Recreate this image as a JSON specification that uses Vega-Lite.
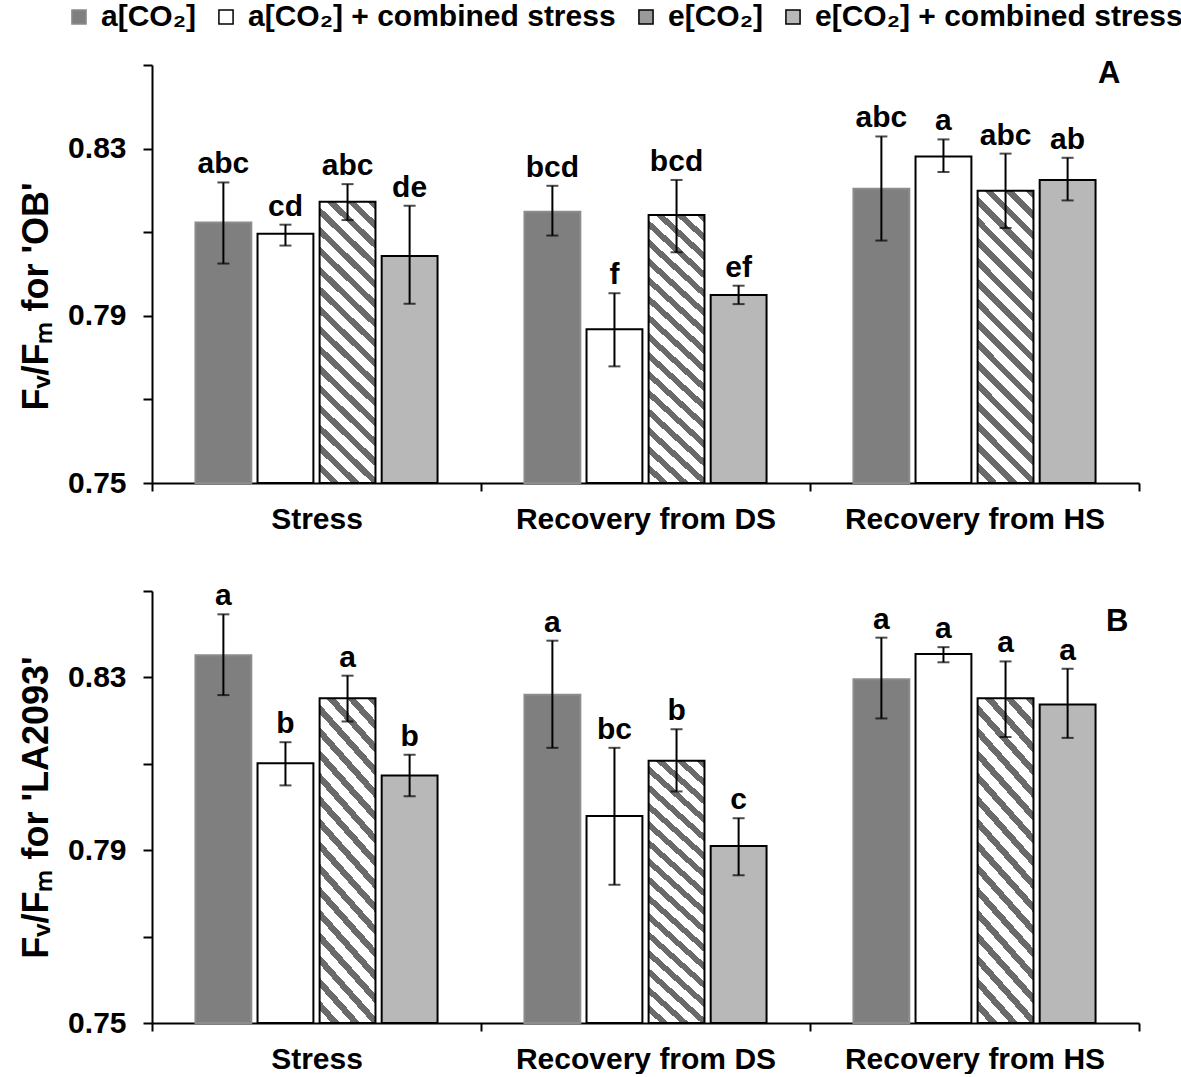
{
  "$schema": "https://vega.github.io/schema/vega-lite/v6.json",
  "padding": {"left": 18, "top": 2, "right": 0, "bottom": 0},
  "background": "white",
  "datasets": {
    "A": [
      {"phase": "Stress", "treat": "a[CO₂]", "mean": 0.8123, "lo": 0.8025, "hi": 0.8219, "letter": "abc"},
      {"phase": "Stress", "treat": "a[CO₂] + combined stress", "mean": 0.8096, "lo": 0.8068, "hi": 0.8118, "letter": "cd"},
      {"phase": "Stress", "treat": "e[CO₂]", "mean": 0.8173, "lo": 0.8129, "hi": 0.8215, "letter": "abc"},
      {"phase": "Stress", "treat": "e[CO₂] + combined stress", "mean": 0.8043, "lo": 0.7929, "hi": 0.8163, "letter": "de"},
      {"phase": "Recovery from DS", "treat": "a[CO₂]", "mean": 0.8149, "lo": 0.8092, "hi": 0.8211, "letter": "bcd"},
      {"phase": "Recovery from DS", "treat": "a[CO₂] + combined stress", "mean": 0.7868, "lo": 0.7779, "hi": 0.7954, "letter": "f"},
      {"phase": "Recovery from DS", "treat": "e[CO₂]", "mean": 0.8141, "lo": 0.8052, "hi": 0.8225, "letter": "bcd"},
      {"phase": "Recovery from DS", "treat": "e[CO₂] + combined stress", "mean": 0.7950, "lo": 0.7928, "hi": 0.7972, "letter": "ef"},
      {"phase": "Recovery from HS", "treat": "a[CO₂]", "mean": 0.8204, "lo": 0.8080, "hi": 0.8329, "letter": "abc"},
      {"phase": "Recovery from HS", "treat": "a[CO₂] + combined stress", "mean": 0.8281, "lo": 0.8244, "hi": 0.8322, "letter": "a"},
      {"phase": "Recovery from HS", "treat": "e[CO₂]", "mean": 0.8199, "lo": 0.8110, "hi": 0.8288, "letter": "abc"},
      {"phase": "Recovery from HS", "treat": "e[CO₂] + combined stress", "mean": 0.8225, "lo": 0.8176, "hi": 0.8278, "letter": "ab"}
    ],
    "B": [
      {"phase": "Stress", "treat": "a[CO₂]", "mean": 0.8351, "lo": 0.8259, "hi": 0.8446, "letter": "a"},
      {"phase": "Stress", "treat": "a[CO₂] + combined stress", "mean": 0.8101, "lo": 0.8050, "hi": 0.8150, "letter": "b"},
      {"phase": "Stress", "treat": "e[CO₂]", "mean": 0.8252, "lo": 0.8198, "hi": 0.8304, "letter": "a"},
      {"phase": "Stress", "treat": "e[CO₂] + combined stress", "mean": 0.8073, "lo": 0.8025, "hi": 0.8121, "letter": "b"},
      {"phase": "Recovery from DS", "treat": "a[CO₂]", "mean": 0.8260, "lo": 0.8137, "hi": 0.8385, "letter": "a"},
      {"phase": "Recovery from DS", "treat": "a[CO₂] + combined stress", "mean": 0.7979, "lo": 0.7820, "hi": 0.8137, "letter": "bc"},
      {"phase": "Recovery from DS", "treat": "e[CO₂]", "mean": 0.8107, "lo": 0.8036, "hi": 0.8180, "letter": "b"},
      {"phase": "Recovery from DS", "treat": "e[CO₂] + combined stress", "mean": 0.7910, "lo": 0.7842, "hi": 0.7974, "letter": "c"},
      {"phase": "Recovery from HS", "treat": "a[CO₂]", "mean": 0.8296, "lo": 0.8205, "hi": 0.8392, "letter": "a"},
      {"phase": "Recovery from HS", "treat": "a[CO₂] + combined stress", "mean": 0.8354, "lo": 0.8335, "hi": 0.8370, "letter": "a"},
      {"phase": "Recovery from HS", "treat": "e[CO₂]", "mean": 0.8252, "lo": 0.8162, "hi": 0.8337, "letter": "a"},
      {"phase": "Recovery from HS", "treat": "e[CO₂] + combined stress", "mean": 0.8237, "lo": 0.8160, "hi": 0.8320, "letter": "a"}
    ],
    "labA": [{"lab": "A"}],
    "labB": [{"lab": "B"}]
  },
  "spacing": 47,
  "resolve": {"scale": {"fill": "shared", "stroke": "shared"}},
  "vconcat": [
    {
      "width": 987,
      "height": 418,
      "layer": [
        {
          "data": {"name": "A"},
          "mark": {"type": "bar", "strokeWidth": 2},
          "encoding": {
            "x": {"field": "phase", "type": "nominal", "sort": ["Stress", "Recovery from DS", "Recovery from HS"], "scale": {"paddingInner": 0, "paddingOuter": 0}, "axis": {"title": null, "labelAngle": 0, "tickBand": "extent", "tickSize": 8, "labelPadding": 13, "labelLimit": 0}},
            "xOffset": {"field": "treat", "type": "nominal", "scale": {"domain": ["a[CO₂]", "a[CO₂] + combined stress", "e[CO₂]", "e[CO₂] + combined stress"], "paddingInner": 0.1, "paddingOuter": 0.7}},
            "y": {"field": "mean", "type": "quantitative", "scale": {"domain": [0.75, 0.85], "nice": false, "zero": false}, "axis": {"title": "Fᵥ/Fₘ for 'OB'", "values": [0.75, 0.77, 0.79, 0.81, 0.83, 0.85], "labelExpr": "indexof(['0.75','0.79','0.83'], format(datum.value, '.2f')) >= 0 ? format(datum.value, '.2f') : ''", "tickSize": 9, "labelPadding": 17, "titlePadding": 12, "titleY": 231}},
            "y2": {"datum": 0.75},
            "fill": {"condition": {"test": "datum.treat === 'e[CO₂]'", "value": {"gradient": "linear", "x1": 0, "y1": 1, "x2": 0.221, "y2": -0.15, "stops": [
              {"offset": 0, "color": "#ffffff"}, {"offset": 0.0341, "color": "#ffffff"}, {"offset": 0.0341, "color": "#6a6a6a"}, {"offset": 0.0588, "color": "#6a6a6a"},
              {"offset": 0.0588, "color": "#ffffff"}, {"offset": 0.0929, "color": "#ffffff"}, {"offset": 0.0929, "color": "#6a6a6a"}, {"offset": 0.1176, "color": "#6a6a6a"},
              {"offset": 0.1176, "color": "#ffffff"}, {"offset": 0.1518, "color": "#ffffff"}, {"offset": 0.1518, "color": "#6a6a6a"}, {"offset": 0.1765, "color": "#6a6a6a"},
              {"offset": 0.1765, "color": "#ffffff"}, {"offset": 0.2106, "color": "#ffffff"}, {"offset": 0.2106, "color": "#6a6a6a"}, {"offset": 0.2353, "color": "#6a6a6a"},
              {"offset": 0.2353, "color": "#ffffff"}, {"offset": 0.2694, "color": "#ffffff"}, {"offset": 0.2694, "color": "#6a6a6a"}, {"offset": 0.2941, "color": "#6a6a6a"},
              {"offset": 0.2941, "color": "#ffffff"}, {"offset": 0.3282, "color": "#ffffff"}, {"offset": 0.3282, "color": "#6a6a6a"}, {"offset": 0.3529, "color": "#6a6a6a"},
              {"offset": 0.3529, "color": "#ffffff"}, {"offset": 0.3871, "color": "#ffffff"}, {"offset": 0.3871, "color": "#6a6a6a"}, {"offset": 0.4118, "color": "#6a6a6a"},
              {"offset": 0.4118, "color": "#ffffff"}, {"offset": 0.4459, "color": "#ffffff"}, {"offset": 0.4459, "color": "#6a6a6a"}, {"offset": 0.4706, "color": "#6a6a6a"},
              {"offset": 0.4706, "color": "#ffffff"}, {"offset": 0.5047, "color": "#ffffff"}, {"offset": 0.5047, "color": "#6a6a6a"}, {"offset": 0.5294, "color": "#6a6a6a"},
              {"offset": 0.5294, "color": "#ffffff"}, {"offset": 0.5635, "color": "#ffffff"}, {"offset": 0.5635, "color": "#6a6a6a"}, {"offset": 0.5882, "color": "#6a6a6a"},
              {"offset": 0.5882, "color": "#ffffff"}, {"offset": 0.6224, "color": "#ffffff"}, {"offset": 0.6224, "color": "#6a6a6a"}, {"offset": 0.6471, "color": "#6a6a6a"},
              {"offset": 0.6471, "color": "#ffffff"}, {"offset": 0.6812, "color": "#ffffff"}, {"offset": 0.6812, "color": "#6a6a6a"}, {"offset": 0.7059, "color": "#6a6a6a"},
              {"offset": 0.7059, "color": "#ffffff"}, {"offset": 0.74, "color": "#ffffff"}, {"offset": 0.74, "color": "#6a6a6a"}, {"offset": 0.7647, "color": "#6a6a6a"},
              {"offset": 0.7647, "color": "#ffffff"}, {"offset": 0.7988, "color": "#ffffff"}, {"offset": 0.7988, "color": "#6a6a6a"}, {"offset": 0.8235, "color": "#6a6a6a"},
              {"offset": 0.8235, "color": "#ffffff"}, {"offset": 0.8576, "color": "#ffffff"}, {"offset": 0.8576, "color": "#6a6a6a"}, {"offset": 0.8824, "color": "#6a6a6a"},
              {"offset": 0.8824, "color": "#ffffff"}, {"offset": 0.9165, "color": "#ffffff"}, {"offset": 0.9165, "color": "#6a6a6a"}, {"offset": 0.9412, "color": "#6a6a6a"},
              {"offset": 0.9412, "color": "#ffffff"}, {"offset": 0.9753, "color": "#ffffff"}, {"offset": 0.9753, "color": "#6a6a6a"}, {"offset": 1, "color": "#6a6a6a"}
            ]}}, "field": "treat", "type": "nominal", "scale": {"domain": ["a[CO₂]", "a[CO₂] + combined stress", "e[CO₂]", "e[CO₂] + combined stress"], "range": ["#7f7f7f", "#ffffff", "#9a9a9a", "#b8b8b8"]}, "legend": {"title": null, "orient": "none", "legendX": -88, "legendY": -63}},
            "stroke": {"field": "treat", "type": "nominal", "scale": {"domain": ["a[CO₂]", "a[CO₂] + combined stress", "e[CO₂]", "e[CO₂] + combined stress"], "range": ["#8c8c8c", "#000000", "#000000", "#000000"]}, "legend": {"title": null, "orient": "none", "legendX": -88, "legendY": -63}}
          }
        },
        {
          "data": {"name": "A"},
          "mark": {"type": "rule", "strokeWidth": 2, "color": "black"},
          "encoding": {
            "x": {"field": "phase", "type": "nominal", "sort": ["Stress", "Recovery from DS", "Recovery from HS"]},
            "xOffset": {"field": "treat", "type": "nominal"},
            "y": {"field": "lo", "type": "quantitative"},
            "y2": {"field": "hi"}
          }
        },
        {
          "data": {"name": "A"},
          "mark": {"type": "tick", "thickness": 2, "size": 12, "color": "black", "orient": "horizontal"},
          "encoding": {
            "x": {"field": "phase", "type": "nominal", "sort": ["Stress", "Recovery from DS", "Recovery from HS"]},
            "xOffset": {"field": "treat", "type": "nominal"},
            "y": {"field": "lo", "type": "quantitative"}
          }
        },
        {
          "data": {"name": "A"},
          "mark": {"type": "tick", "thickness": 2, "size": 12, "color": "black", "orient": "horizontal"},
          "encoding": {
            "x": {"field": "phase", "type": "nominal", "sort": ["Stress", "Recovery from DS", "Recovery from HS"]},
            "xOffset": {"field": "treat", "type": "nominal"},
            "y": {"field": "hi", "type": "quantitative"}
          }
        },
        {
          "data": {"name": "A"},
          "mark": {"type": "text", "fontSize": 30, "fontWeight": "bold", "baseline": "alphabetic", "dy": -9, "color": "black"},
          "encoding": {
            "x": {"field": "phase", "type": "nominal", "sort": ["Stress", "Recovery from DS", "Recovery from HS"]},
            "xOffset": {"field": "treat", "type": "nominal"},
            "y": {"field": "hi", "type": "quantitative"},
            "text": {"field": "letter"}
          }
        },
        {
          "data": {"name": "labA"},
          "mark": {"type": "text", "fontSize": 31, "fontWeight": "bold", "baseline": "alphabetic", "align": "right", "dx": 146, "dy": 18, "color": "black"},
          "encoding": {
            "x": {"datum": "Recovery from HS"},
            "y": {"datum": 0.85},
            "text": {"field": "lab"}
          }
        }
      ]
    },
    {
      "width": 987,
      "height": 432,
      "layer": [
        {
          "data": {"name": "B"},
          "mark": {"type": "bar", "strokeWidth": 2},
          "encoding": {
            "x": {"field": "phase", "type": "nominal", "sort": ["Stress", "Recovery from DS", "Recovery from HS"], "scale": {"paddingInner": 0, "paddingOuter": 0}, "axis": {"title": null, "labelAngle": 0, "tickBand": "extent", "tickSize": 8, "labelPadding": 13, "labelLimit": 0}},
            "xOffset": {"field": "treat", "type": "nominal", "scale": {"domain": ["a[CO₂]", "a[CO₂] + combined stress", "e[CO₂]", "e[CO₂] + combined stress"], "paddingInner": 0.1, "paddingOuter": 0.7}},
            "y": {"field": "mean", "type": "quantitative", "scale": {"domain": [0.75, 0.85], "nice": false, "zero": false}, "axis": {"title": "Fᵥ/Fₘ for 'LA2093'", "values": [0.75, 0.77, 0.79, 0.81, 0.83, 0.85], "labelExpr": "indexof(['0.75','0.79','0.83'], format(datum.value, '.2f')) >= 0 ? format(datum.value, '.2f') : ''", "tickSize": 9, "labelPadding": 17, "titlePadding": 12}},
            "y2": {"datum": 0.75},
            "fill": {"condition": {"test": "datum.treat === 'e[CO₂]'", "value": {"gradient": "linear", "x1": 0, "y1": 1, "x2": 0.221, "y2": -0.15, "stops": [
              {"offset": 0, "color": "#ffffff"}, {"offset": 0.0341, "color": "#ffffff"}, {"offset": 0.0341, "color": "#6a6a6a"}, {"offset": 0.0588, "color": "#6a6a6a"},
              {"offset": 0.0588, "color": "#ffffff"}, {"offset": 0.0929, "color": "#ffffff"}, {"offset": 0.0929, "color": "#6a6a6a"}, {"offset": 0.1176, "color": "#6a6a6a"},
              {"offset": 0.1176, "color": "#ffffff"}, {"offset": 0.1518, "color": "#ffffff"}, {"offset": 0.1518, "color": "#6a6a6a"}, {"offset": 0.1765, "color": "#6a6a6a"},
              {"offset": 0.1765, "color": "#ffffff"}, {"offset": 0.2106, "color": "#ffffff"}, {"offset": 0.2106, "color": "#6a6a6a"}, {"offset": 0.2353, "color": "#6a6a6a"},
              {"offset": 0.2353, "color": "#ffffff"}, {"offset": 0.2694, "color": "#ffffff"}, {"offset": 0.2694, "color": "#6a6a6a"}, {"offset": 0.2941, "color": "#6a6a6a"},
              {"offset": 0.2941, "color": "#ffffff"}, {"offset": 0.3282, "color": "#ffffff"}, {"offset": 0.3282, "color": "#6a6a6a"}, {"offset": 0.3529, "color": "#6a6a6a"},
              {"offset": 0.3529, "color": "#ffffff"}, {"offset": 0.3871, "color": "#ffffff"}, {"offset": 0.3871, "color": "#6a6a6a"}, {"offset": 0.4118, "color": "#6a6a6a"},
              {"offset": 0.4118, "color": "#ffffff"}, {"offset": 0.4459, "color": "#ffffff"}, {"offset": 0.4459, "color": "#6a6a6a"}, {"offset": 0.4706, "color": "#6a6a6a"},
              {"offset": 0.4706, "color": "#ffffff"}, {"offset": 0.5047, "color": "#ffffff"}, {"offset": 0.5047, "color": "#6a6a6a"}, {"offset": 0.5294, "color": "#6a6a6a"},
              {"offset": 0.5294, "color": "#ffffff"}, {"offset": 0.5635, "color": "#ffffff"}, {"offset": 0.5635, "color": "#6a6a6a"}, {"offset": 0.5882, "color": "#6a6a6a"},
              {"offset": 0.5882, "color": "#ffffff"}, {"offset": 0.6224, "color": "#ffffff"}, {"offset": 0.6224, "color": "#6a6a6a"}, {"offset": 0.6471, "color": "#6a6a6a"},
              {"offset": 0.6471, "color": "#ffffff"}, {"offset": 0.6812, "color": "#ffffff"}, {"offset": 0.6812, "color": "#6a6a6a"}, {"offset": 0.7059, "color": "#6a6a6a"},
              {"offset": 0.7059, "color": "#ffffff"}, {"offset": 0.74, "color": "#ffffff"}, {"offset": 0.74, "color": "#6a6a6a"}, {"offset": 0.7647, "color": "#6a6a6a"},
              {"offset": 0.7647, "color": "#ffffff"}, {"offset": 0.7988, "color": "#ffffff"}, {"offset": 0.7988, "color": "#6a6a6a"}, {"offset": 0.8235, "color": "#6a6a6a"},
              {"offset": 0.8235, "color": "#ffffff"}, {"offset": 0.8576, "color": "#ffffff"}, {"offset": 0.8576, "color": "#6a6a6a"}, {"offset": 0.8824, "color": "#6a6a6a"},
              {"offset": 0.8824, "color": "#ffffff"}, {"offset": 0.9165, "color": "#ffffff"}, {"offset": 0.9165, "color": "#6a6a6a"}, {"offset": 0.9412, "color": "#6a6a6a"},
              {"offset": 0.9412, "color": "#ffffff"}, {"offset": 0.9753, "color": "#ffffff"}, {"offset": 0.9753, "color": "#6a6a6a"}, {"offset": 1, "color": "#6a6a6a"}
            ]}}, "field": "treat", "type": "nominal", "legend": {"title": null, "orient": "none", "legendX": -88, "legendY": -63}},
            "stroke": {"field": "treat", "type": "nominal", "legend": {"title": null, "orient": "none", "legendX": -88, "legendY": -63}}
          }
        },
        {
          "data": {"name": "B"},
          "mark": {"type": "rule", "strokeWidth": 2, "color": "black"},
          "encoding": {
            "x": {"field": "phase", "type": "nominal", "sort": ["Stress", "Recovery from DS", "Recovery from HS"]},
            "xOffset": {"field": "treat", "type": "nominal"},
            "y": {"field": "lo", "type": "quantitative"},
            "y2": {"field": "hi"}
          }
        },
        {
          "data": {"name": "B"},
          "mark": {"type": "tick", "thickness": 2, "size": 12, "color": "black", "orient": "horizontal"},
          "encoding": {
            "x": {"field": "phase", "type": "nominal", "sort": ["Stress", "Recovery from DS", "Recovery from HS"]},
            "xOffset": {"field": "treat", "type": "nominal"},
            "y": {"field": "lo", "type": "quantitative"}
          }
        },
        {
          "data": {"name": "B"},
          "mark": {"type": "tick", "thickness": 2, "size": 12, "color": "black", "orient": "horizontal"},
          "encoding": {
            "x": {"field": "phase", "type": "nominal", "sort": ["Stress", "Recovery from DS", "Recovery from HS"]},
            "xOffset": {"field": "treat", "type": "nominal"},
            "y": {"field": "hi", "type": "quantitative"}
          }
        },
        {
          "data": {"name": "B"},
          "mark": {"type": "text", "fontSize": 30, "fontWeight": "bold", "baseline": "alphabetic", "dy": -9, "color": "black"},
          "encoding": {
            "x": {"field": "phase", "type": "nominal", "sort": ["Stress", "Recovery from DS", "Recovery from HS"]},
            "xOffset": {"field": "treat", "type": "nominal"},
            "y": {"field": "hi", "type": "quantitative"},
            "text": {"field": "letter"}
          }
        },
        {
          "data": {"name": "labB"},
          "mark": {"type": "text", "fontSize": 31, "fontWeight": "bold", "baseline": "alphabetic", "align": "right", "dx": 154, "dy": 40, "color": "black"},
          "encoding": {
            "x": {"datum": "Recovery from HS"},
            "y": {"datum": 0.85},
            "text": {"field": "lab"}
          }
        }
      ]
    }
  ],
  "config": {
    "font": "Liberation Sans",
    "view": {"stroke": null},
    "axis": {
      "domainColor": "black", "domainWidth": 2, "tickColor": "black", "tickWidth": 2, "grid": false,
      "labelFont": "Liberation Sans", "labelFontSize": 30, "labelFontWeight": "bold", "labelColor": "black",
      "titleFont": "Liberation Sans", "titleFontSize": 36, "titleFontWeight": "bold", "titleColor": "black"
    },
    "legend": {
      "direction": "horizontal", "symbolType": "square", "symbolSize": 200, "symbolStrokeWidth": 1.5,
      "labelFont": "Liberation Sans", "labelFontSize": 30, "labelFontWeight": "bold", "labelColor": "black", "labelLimit": 0,
      "columnPadding": 15, "labelOffset": 7
    }
  }
}
